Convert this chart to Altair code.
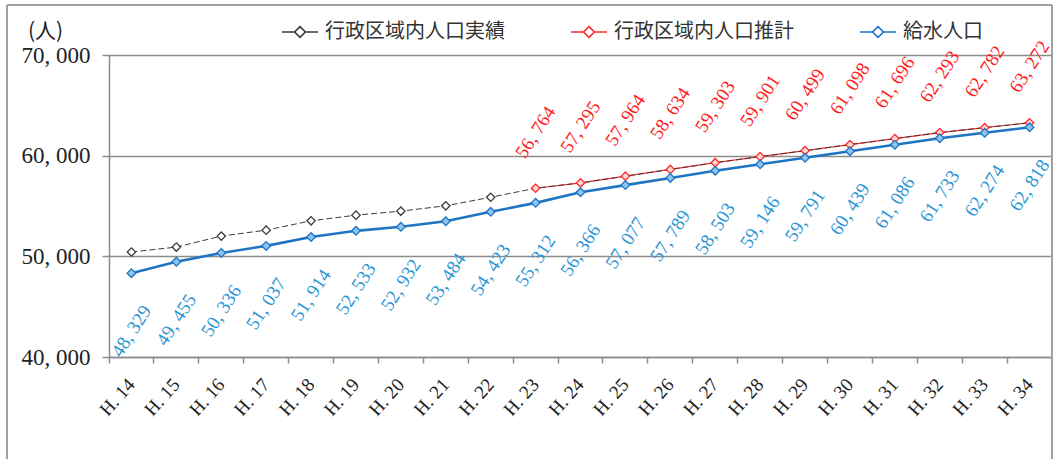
import altair as alt
import pandas as pd

years = ["H. 14", "H. 15", "H. 16", "H. 17", "H. 18", "H. 19", "H. 20",
         "H. 21", "H. 22", "H. 23", "H. 24", "H. 25", "H. 26", "H. 27",
         "H. 28", "H. 29", "H. 30", "H. 31", "H. 32", "H. 33", "H. 34"]

# 行政区域内人口実績 (H.14 - H.22) (no labels in source)
actual_years = years[:9]
actual = [50430, 50920, 52010, 52600, 53530, 54090, 54490, 55020, 55870]

# 行政区域内人口推計 (H.23 - H.34)
est_years = years[9:]
estimate = [56764, 57295, 57964, 58634, 59303, 59901, 60499, 61098,
            61696, 62293, 62782, 63272]

# 給水人口 (H.14 - H.34)
supply = [48329, 49455, 50336, 51037, 51914, 52533, 52932, 53484, 54423,
          55312, 56366, 57077, 57789, 58503, 59146, 59791, 60439, 61086,
          61733, 62274, 62818]

series_names = ["行政区域内人口実績", "行政区域内人口推計", "給水人口"]
series_colors = ["#3a3a3a", "#ff2a2a", "#1f74c4"]

df_black_line = pd.DataFrame({"year": actual_years + est_years,
                              "value": actual + estimate,
                              "series": series_names[0]})
df_black_pts = pd.DataFrame({"year": actual_years, "value": actual,
                             "series": series_names[0]})
df_red = pd.DataFrame({"year": est_years, "value": estimate,
                       "series": series_names[1]})
df_blue = pd.DataFrame({"year": years, "value": supply,
                        "series": series_names[2]})

SERIF = "Liberation Serif"
JP = "Noto Sans CJK JP"
LABEL_EXPR = "replace(format(datum.value, ','), ',', ', ')"

xscale = alt.Scale(type="band", domain=years, paddingInner=0, paddingOuter=0)
label_axis = alt.Axis(orient="bottom", ticks=False, domain=False, grid=False,
                      title=None, labelAngle=312, labelAlign="right",
                      labelBaseline="middle", labelPadding=24,
                      labelFont=SERIF, labelFontSize=19, labelColor="#222")
tick_axis = alt.Axis(orient="bottom", bandPosition=0, labels=False,
                     ticks=True, tickSize=6, tickColor="#8c8c8c", tickWidth=1.5,
                     domain=True, domainColor="#8c8c8c", domainWidth=1.5,
                     grid=False, title=None)
x_lab = alt.X("year:N", scale=xscale, axis=label_axis, sort=years)
x_none = alt.X("year:N", scale=xscale, axis=None, sort=years)
x_tick = alt.X("year:N", scale=xscale, axis=tick_axis, sort=years)

y_axis = alt.Axis(values=[40000, 50000, 60000, 70000], labelExpr=LABEL_EXPR,
                  labelFont=SERIF, labelFontSize=23, labelColor="#222",
                  labelPadding=12, tickSize=7, tickColor="#8c8c8c", tickWidth=1.5,
                  domainColor="#8c8c8c", domainWidth=1.5,
                  grid=True, gridColor="#8c8c8c", gridWidth=1.5,
                  title="(人)", titleAngle=0, titleX=-64, titleY=-24,
                  titleFont=JP, titleFontSize=21, titleFontWeight="normal",
                  titleAlign="center", titleBaseline="middle", titleColor="#222")
y = alt.Y("value:Q", scale=alt.Scale(domain=[40000, 70000], nice=False, zero=False),
          axis=y_axis)

color_scale = alt.Scale(domain=series_names, range=series_colors)
legend = alt.Legend(
    orient="none", legendX=172, legendY=-42, direction="horizontal", title=None,
    symbolType="M-1,0H-0.3M0.3,0H1M0,-0.3L0.3,0L0,0.3L-0.3,0Z",
    symbolSize=1300, symbolStrokeWidth=1.6, labelFont=JP, labelFontSize=20,
    labelColor="#333", labelOffset=6, columnPadding=62, labelLimit=400)
color = alt.Color("series:N", scale=color_scale, legend=legend)

red_line = alt.Chart(df_red).mark_line(strokeWidth=1.2).encode(
    x=x_lab, y=y, color=color)
black_line = alt.Chart(df_black_line).mark_line(
    strokeWidth=1, strokeDash=[6, 3]).encode(x=x_none, y=y, color=color)
blue_line = alt.Chart(df_blue).mark_line(strokeWidth=2.6).encode(
    x=x_none, y=y, color=color)

black_pts = alt.Chart(df_black_pts).mark_point(
    shape="diamond", size=70, filled=True, fill="white", stroke="#3a3a3a",
    strokeWidth=1.3, opacity=1).encode(x=x_none, y=y)
red_pts = alt.Chart(df_red).mark_point(
    shape="diamond", size=70, filled=True, fill="#ffd6d6", stroke="#ff2a2a",
    strokeWidth=1.3, opacity=1).encode(x=x_none, y=y)
blue_pts = alt.Chart(df_blue).mark_point(
    shape="diamond", size=75, filled=True, fill="#8cc5ee", stroke="#1f74c4",
    strokeWidth=1.3, opacity=1).encode(x=x_tick, y=y)

red_text = alt.Chart(df_red).transform_calculate(
    label="replace(format(datum.value, ','), ',', ', ')"
).mark_text(angle=303, radius=56, theta=0, align="center", baseline="middle",
            font=SERIF, fontSize=19, color="#ff1a1a").encode(
    x=x_none, y=y, text="label:N")
blue_text = alt.Chart(df_blue).transform_calculate(
    label="replace(format(datum.value, ','), ',', ', ')"
).mark_text(angle=303, radius=58, theta=3.14159, align="center",
            baseline="middle", font=SERIF, fontSize=19, color="#2a95d4").encode(
    x=x_none, y=y, text="label:N")

# outer chart frame
frame_left = alt.Chart(df_blue).mark_rule(color="#a0a0a0", strokeWidth=2).encode(
    x=alt.value(-102), y=alt.value(-50), y2=alt.value(404))
frame_top = alt.Chart(df_blue).mark_rule(color="#a0a0a0", strokeWidth=2).encode(
    x=alt.value(-102), x2=alt.value(943), y=alt.value(-50))
frame_right = alt.Chart(df_blue).mark_rule(color="#a0a0a0", strokeWidth=2).encode(
    x=alt.value(943), y=alt.value(-50), y2=alt.value(404))

chart = alt.layer(
    red_line, black_line, blue_line, black_pts, red_pts, blue_pts,
    red_text, blue_text, frame_left, frame_top, frame_right
).resolve_axis(x="independent").properties(
    width=943, height=302, autosize="none",
    padding={"left": 109, "top": 55, "right": 5, "bottom": 102},
    background="white"
).configure_view(stroke=None)

chart.save("out.html", embed_options={"renderer": "svg", "actions": False})
